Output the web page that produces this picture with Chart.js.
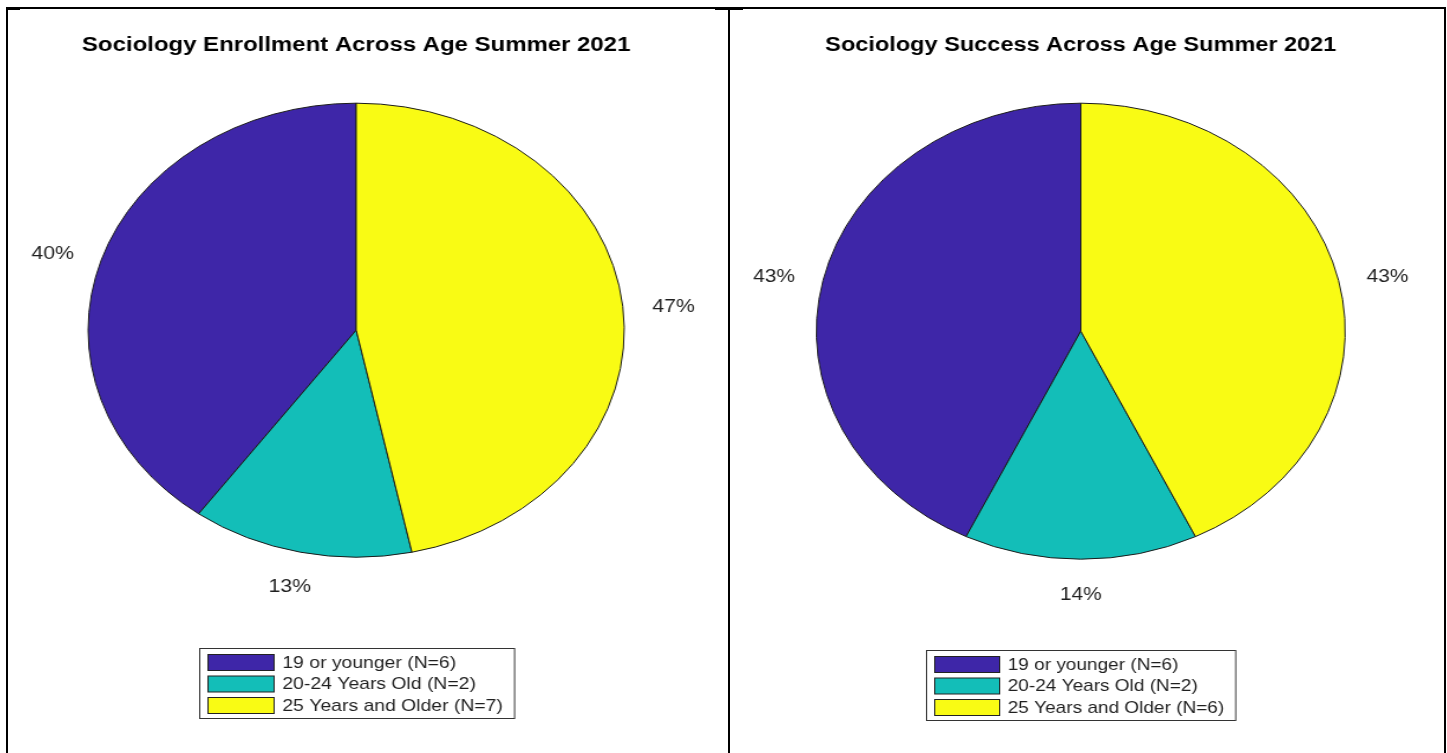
<!DOCTYPE html>
<html>
<head>
<meta charset="utf-8">
<script src="https://cdn.jsdelivr.net/npm/chart.js@4.4.1/dist/chart.umd.min.js"></script>
<style>
  body { margin: 0; background: #fff; width: 1447px; height: 753px; overflow: hidden; position: relative; }
  .rule { position: absolute; background: #000; }
  canvas { position: absolute; top: 10px; }
</style>
</head>
<body>
<div class="rule" style="left:6px;top:7px;width:1440px;height:1.5px"></div>
<div class="rule" style="left:6px;top:8px;width:14px;height:2px"></div>
<div class="rule" style="left:715px;top:8px;width:28px;height:1.5px"></div>
<div class="rule" style="left:6px;top:7px;width:2px;height:746px"></div>
<div class="rule" style="left:728px;top:7px;width:2px;height:746px"></div>
<div class="rule" style="left:1444px;top:7px;width:2px;height:746px"></div>

<!-- canvases are drawn narrow and stretched sideways by css, so the pie comes out as an ellipse -->
<canvas id="enrollChart" width="608" height="743" style="left:9px;width:718px;height:743px"></canvas>
<canvas id="successChart" width="614" height="743" style="left:730px;width:712px;height:743px"></canvas>

<script>
const ageGroups = ['19 or younger', '20-24 Years Old', '25 Years and Older'];
const enrollCounts = [6, 2, 7];
const successCounts = [6, 2, 6];
const sliceColors = ['#3e26a8', '#13beb8', '#f9fb14'];

const enrollTitle = 'Sociology Enrollment Across Age Summer 2021';
const successTitle = 'Sociology Success Across Age Summer 2021';

const fontFamily = '"Liberation Sans", Arial, Helvetica, sans-serif';
Chart.defaults.font.family = fontFamily;

// matlab pies run counter-clockwise from 12 o'clock, so flip the arcs round their centre
const mirrorPie = {
    id: 'mirrorPie',
    beforeDatasetsDraw(chart) {
        const cx = chart.getDatasetMeta(0).data[0].x;
        const ctx = chart.ctx;
        ctx.save();
        ctx.translate(cx, 0);
        ctx.scale(-1, 1);
        ctx.translate(-cx, 0);
    },
    afterDatasetsDraw(chart) {
        chart.ctx.restore();
    }
};

const pieExtras = {
    id: 'pieExtras',
    afterDraw(chart) {
        const ctx = chart.ctx;
        const values = chart.data.datasets[0].data;
        const colors = chart.data.datasets[0].backgroundColor;
        const total = values.reduce((a, b) => a + b, 0);
        const arcs = chart.getDatasetMeta(0).data;

        ctx.save();
        ctx.fillStyle = '#1f1f1f';
        ctx.textAlign = 'center';
        ctx.textBaseline = 'middle';
        ctx.font = '18px ' + fontFamily;
        arcs.forEach((arc, i) => {
            const p = arc.getProps(['x', 'y', 'startAngle', 'endAngle', 'outerRadius'], true);
            const mid = (p.startAngle + p.endAngle) / 2;
            const lx = p.x - Math.cos(mid) * p.outerRadius * 1.19;
            const ly = p.y + Math.sin(mid) * p.outerRadius * 1.14 + 4;
            ctx.fillText(Math.round(values[i] / total * 100) + '%', lx, ly);
        });

        // boxed legend under the pie
        const first = arcs[0];
        const lines = chart.data.labels.map((g, i) => `${g} (N=${values[i]})`);
        ctx.font = '16.4px ' + fontFamily;
        const textW = Math.max(...lines.map(t => ctx.measureText(t).width));
        const boxW = 7 + 56 + 7 + textW + 10;
        const boxH = 70;
        const left = Math.round(first.x - boxW / 2) + 0.5;
        const top = Math.round(first.y + first.outerRadius + 91) + 0.5;
        ctx.lineWidth = 1;
        ctx.strokeStyle = '#333333';
        ctx.strokeRect(left, top, boxW, boxH);
        ctx.textAlign = 'left';
        lines.forEach((t, i) => {
            const rowTop = top + 6 + i * 21.5;
            ctx.fillStyle = colors[i];
            ctx.fillRect(left + 7, rowTop, 56, 16);
            ctx.strokeStyle = '#222222';
            ctx.strokeRect(left + 7, rowTop, 56, 16);
            ctx.fillStyle = '#1f1f1f';
            ctx.fillText(t, left + 70, rowTop + 8.5);
        });
        ctx.restore();
    }
};

function makePie(id, title, counts, radius, padRight, padBottom) {
    const ctx = document.getElementById(id).getContext('2d');
    return new Chart(ctx, {
        type: 'pie',
        data: {
            labels: ageGroups,
            datasets: [{
                data: counts,
                backgroundColor: sliceColors,
                borderColor: '#1a1a1a',
                borderWidth: 1,
                radius: radius
            }]
        },
        options: {
            responsive: false,
            animation: false,
            layout: { padding: { left: 0, right: padRight, top: 0, bottom: padBottom } },
            plugins: {
                legend: { display: false },
                tooltip: { enabled: false },
                title: {
                    display: true,
                    text: title,
                    color: '#000',
                    font: { size: 20.3, weight: 'bold' },
                    padding: { top: 23, bottom: 10 }
                }
            }
        },
        plugins: [mirrorPie, pieExtras]
    });
}

makePie('enrollChart', enrollTitle, enrollCounts, 227, 20, 160);
makePie('successChart', successTitle, successCounts, 228, 9, 158);
</script>
</body>
</html>
